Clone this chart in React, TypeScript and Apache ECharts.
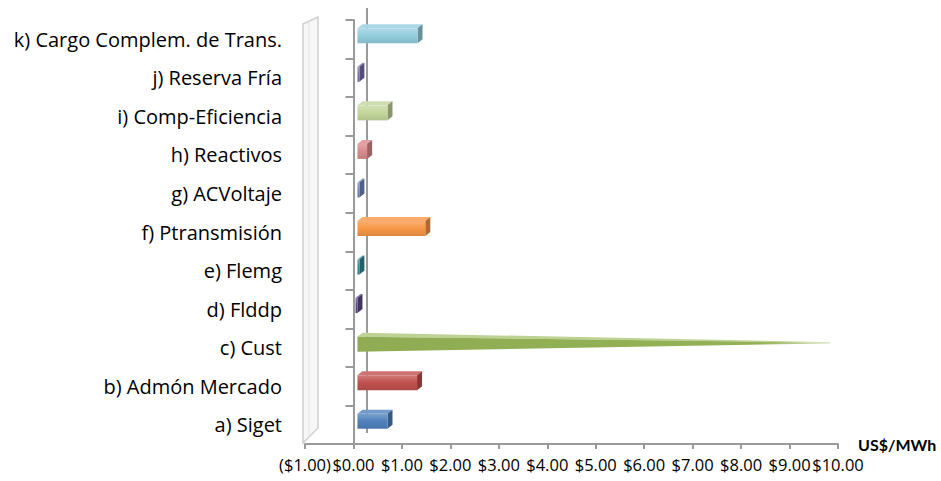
import React, { useEffect, useRef } from "react";
import * as echarts from "echarts";

const categories = [
  "a) Siget",
  "b) Admón Mercado",
  "c) Cust",
  "d) Flddp",
  "e) Flemg",
  "f) Ptransmisión",
  "g) ACVoltaje",
  "h) Reactivos",
  "i) Comp-Eficiencia",
  "j) Reserva Fría",
  "k) Cargo Complem. de Trans.",
];
const values = [0.62, 1.23, 9.75, -0.04, 0.04, 1.4, 0.04, 0.2, 0.62, 0.04, 1.24];
const barColors = [
  "#4F81BD",
  "#C0504D",
  "#9BBB59",
  "#5B4A8A",
  "#2E8A9A",
  "#F79646",
  "#7189BF",
  "#D98A8C",
  "#C3D69B",
  "#7A6FB0",
  "#93CDDD",
];
const barShapes = ["box", "box", "cone", "box", "box", "box", "box", "box", "box", "box", "box"];
const xTicks = { min: -1, max: 10, interval: 1 };
const xTickLabels = [
  "($1.00)",
  "$0.00",
  "$1.00",
  "$2.00",
  "$3.00",
  "$4.00",
  "$5.00",
  "$6.00",
  "$7.00",
  "$8.00",
  "$9.00",
  "$10.00",
];

function shade(hex: string, f: number) {
  const n = parseInt(hex.slice(1), 16);
  let r = (n >> 16) & 255,
    g = (n >> 8) & 255,
    b = n & 255;
  if (f >= 0) {
    r = Math.round(r + (255 - r) * f);
    g = Math.round(g + (255 - g) * f);
    b = Math.round(b + (255 - b) * f);
  } else {
    r = Math.round(r * (1 + f));
    g = Math.round(g * (1 + f));
    b = Math.round(b * (1 + f));
  }
  return `rgb(${r},${g},${b})`;
}

export default function App() {
  const ref = useRef<HTMLDivElement>(null);
  useEffect(() => {
    document.body.style.margin = "0";
    const chart = echarts.init(ref.current!, null, { renderer: "svg" });
    const font = "Open Sans";
    chart.setOption({
      animation: false,
      backgroundColor: "#ffffff",
      grid: { left: 305, right: 103, top: 20, bottom: 37, containLabel: false },
      graphic: [
        {
          type: "polygon",
          z: 0,
          shape: { points: [[303, 443], [303, 24], [318, 17], [318, 428]] },
          style: { fill: "#f7f7f7", stroke: "#cfcfcf", lineWidth: 1.5 },
        },
        {
          type: "line",
          z: 0,
          shape: { x1: 309, y1: 21, x2: 309, y2: 437 },
          style: { stroke: "#e2e2e2", lineWidth: 1 },
        },
        {
          type: "line",
          z: 0,
          shape: { x1: 367, y1: 8, x2: 367, y2: 433 },
          style: { stroke: "#9a9a9a", lineWidth: 2 },
        },
      ],
      xAxis: [
        {
          type: "value",
          min: xTicks.min,
          max: xTicks.max,
          interval: xTicks.interval,
          name: "US$/MWh",
          nameLocation: "end",
          nameGap: 20,
          nameTextStyle: { fontFamily: "Lato", fontWeight: "bold", fontSize: 16, color: "#000", verticalAlign: "middle" },
          splitLine: { show: false },
          axisLine: { show: true, onZero: false, lineStyle: { color: "#9a9a9a", width: 2 } },
          axisTick: { show: true, length: 5, lineStyle: { color: "#9a9a9a", width: 2 } },
          axisLabel: { show: false },
        },
        {
          type: "category",
          data: xTickLabels,
          boundaryGap: false,
          position: "bottom",
          axisLine: { show: false },
          axisTick: { show: false },
          splitLine: { show: false },
          axisLabel: {
            interval: 0,
            fontFamily: font,
            fontSize: 16.5,
            color: "#000",
            margin: 12,
            hideOverlap: false,
          },
        },
      ],
      yAxis: {
        type: "category",
        data: categories,
        axisLine: { show: true, onZero: true, lineStyle: { color: "#9a9a9a", width: 2 } },
        axisTick: { show: true, length: 8, lineStyle: { color: "#9a9a9a", width: 2 } },
        axisLabel: { fontFamily: font, fontSize: 20, color: "#000", margin: 23 },
        splitLine: { show: false },
      },
      series: [
        {
          type: "custom",
          xAxisIndex: 0,
          encode: { x: 0, y: 1 },
          data: values.map((v, i) => [v, i]),
          renderItem: (params: any, api: any) => {
            const i = api.value(1);
            const v = api.value(0);
            const p0 = api.coord([0, i]);
            const p1 = api.coord([v, i]);
            const off = 4;
            const dx = 5;
            const dy = -4;
            const xa = Math.min(p0[0], p1[0]) + off;
            const xb = Math.max(p0[0], p1[0]) + off;
            const yc = p0[1];
            const top = yc - 11;
            const bot = yc + 4;
            const c = barColors[params.dataIndex];
            if (barShapes[params.dataIndex] === "cone") {
              const tipY = yc - 5;
              return {
                type: "group",
                children: [
                  {
                    type: "polygon",
                    shape: { points: [[xa, top], [xa + dx, top + dy], [xb, tipY - 0.5], [xb, tipY]] },
                    style: { fill: shade(c, 0.35) },
                  },
                  {
                    type: "polygon",
                    shape: { points: [[xa, top], [xb, tipY], [xb, tipY + 0.8], [xa, bot]] },
                    style: {
                      fill: new echarts.graphic.LinearGradient(0, 0, 1, 0, [
                        { offset: 0, color: shade(c, -0.08) },
                        { offset: 0.85, color: shade(c, -0.05) },
                        { offset: 1, color: shade(c, 0.6) },
                      ]),
                    },
                  },
                ],
              };
            }
            return {
              type: "group",
              children: [
                {
                  type: "polygon",
                  shape: { points: [[xa, top], [xa + dx, top + dy], [xb + dx, top + dy], [xb, top]] },
                  style: { fill: shade(c, 0.2) },
                },
                {
                  type: "polygon",
                  shape: { points: [[xb, top], [xb + dx, top + dy], [xb + dx, bot + dy], [xb, bot]] },
                  style: { fill: shade(c, -0.3) },
                },
                {
                  type: "rect",
                  shape: { x: xa, y: top, width: Math.max(xb - xa, 0.5), height: bot - top },
                  style: {
                    fill: new echarts.graphic.LinearGradient(0, 0, 0, 1, [
                      { offset: 0, color: shade(c, 0.25) },
                      { offset: 0.5, color: c },
                      { offset: 1, color: shade(c, -0.1) },
                    ]),
                  },
                },
              ],
            };
          },
        },
      ],
    });
    return () => chart.dispose();
  }, []);
  return <div ref={ref} style={{ width: 941, height: 481 }} />;
}
